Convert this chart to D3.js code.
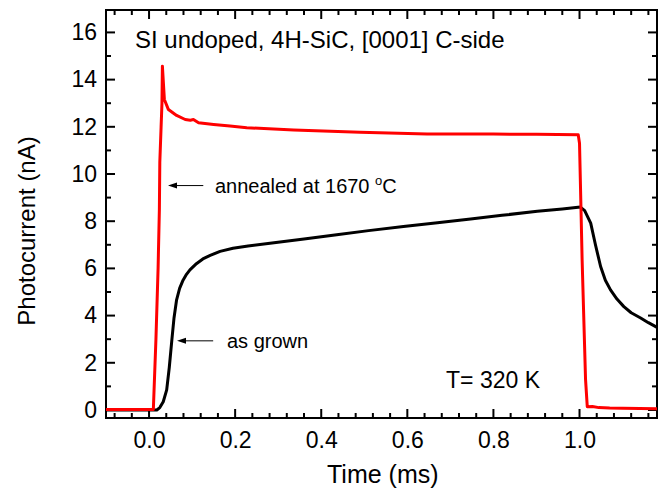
<!DOCTYPE html>
<html>
<head>
<meta charset="utf-8">
<script src="https://cdn.jsdelivr.net/npm/d3@7"></script>
<style>
  body { margin: 0; background: #fff; }
  svg text { font-family: "Liberation Sans", Arial, sans-serif; fill: #000; }
</style>
</head>
<body>
<div id="root"></div>
<script>
// as grown (black)
const grownT = [-0.10, 0.018, 0.025, 0.033, 0.041, 0.047, 0.053, 0.058, 0.064, 0.071, 0.079, 0.087, 0.095,
                0.110, 0.125, 0.142, 0.165, 0.195, 0.230, 0.281, 0.360, 0.436, 0.510, 0.591, 0.670, 0.747,
                0.820, 0.902, 0.960, 1.002, 1.012, 1.026, 1.037, 1.049, 1.060, 1.072, 1.087, 1.103, 1.120,
                1.142, 1.160, 1.177, 1.180];
const grownI = [0.00, 0.00, 0.10, 0.35, 0.85, 1.80, 2.97, 3.90, 4.67, 5.15, 5.50, 5.75, 5.94,
                6.20, 6.40, 6.55, 6.72, 6.85, 6.95, 7.07, 7.25, 7.43, 7.60, 7.78, 7.93, 8.09,
                8.25, 8.42, 8.52, 8.60, 8.45, 7.92, 7.00, 6.08, 5.50, 5.09, 4.70, 4.38, 4.12,
                3.90, 3.70, 3.53, 3.50];

// annealed at 1670 C (red)
const annealT = [-0.10, 0.010, 0.016, 0.021, 0.024, 0.025, 0.028, 0.030, 0.031, 0.0356, 0.045, 0.064,
                 0.084, 0.096, 0.103, 0.115, 0.150, 0.188, 0.227, 0.336, 0.490, 0.646, 0.800, 0.900,
                 0.997, 1.000, 1.006, 1.014, 1.018, 1.030, 1.045, 1.070, 1.100, 1.140, 1.180];
const annealI = [0.02, 0.02, 3.0, 6.0, 8.5, 10.5, 12.0, 13.0, 14.57, 13.16, 12.73, 12.48,
                 12.31, 12.28, 12.31, 12.17, 12.10, 12.03, 11.96, 11.86, 11.77, 11.70, 11.69, 11.68,
                 11.66, 11.30, 6.40, 1.30, 0.14, 0.15, 0.10, 0.08, 0.07, 0.06, 0.05];

const xTicks = [0.0, 0.2, 0.4, 0.6, 0.8, 1.0];
const yTicks = [0, 2, 4, 6, 8, 10, 12, 14, 16];

const outerWidth = 665, outerHeight = 494;
const margin = { top: 10, right: 8, bottom: 76, left: 106 };
const width = outerWidth - margin.left - margin.right;
const height = outerHeight - margin.top - margin.bottom;

const x = d3.scaleLinear().domain([-0.1, 1.18]).range([0, width]);
const y = d3.scaleLinear().domain([-0.34, 16.95]).range([height, 0]);

const svg = d3.select("#root").append("svg")
    .attr("width", outerWidth)
    .attr("height", outerHeight);

const chart = svg.append("g")
    .attr("transform", `translate(${margin.left},${margin.top})`);

const xMinor = d3.range(-0.08, 1.17, 0.04).filter(v => Math.abs(v / 0.2 - Math.round(v / 0.2)) > 0.01);
const yMinor = d3.range(1, 17, 2);

chart.append("rect")
    .attr("width", width).attr("height", height)
    .attr("fill", "none").attr("stroke", "#000").attr("stroke-width", 2);

// tick marks on all four sides, pointing inward
function xTickMarks(values, len) {
    chart.append("g").selectAll("line").data(values).join("line")
        .attr("x1", d => x(d)).attr("x2", d => x(d)).attr("y1", height).attr("y2", height - len)
        .attr("stroke", "#000").attr("stroke-width", 2);
    chart.append("g").selectAll("line").data(values).join("line")
        .attr("x1", d => x(d)).attr("x2", d => x(d)).attr("y1", 0).attr("y2", len)
        .attr("stroke", "#000").attr("stroke-width", 2);
}
function yTickMarks(values, len) {
    chart.append("g").selectAll("line").data(values).join("line")
        .attr("y1", d => y(d)).attr("y2", d => y(d)).attr("x1", 0).attr("x2", len)
        .attr("stroke", "#000").attr("stroke-width", 2);
    chart.append("g").selectAll("line").data(values).join("line")
        .attr("y1", d => y(d)).attr("y2", d => y(d)).attr("x1", width).attr("x2", width - len)
        .attr("stroke", "#000").attr("stroke-width", 2);
}
xTickMarks(xMinor, 5);
xTickMarks(xTicks, 9);
yTickMarks(yMinor, 5);
yTickMarks(yTicks, 9);

// tick labels from d3 axes (their own lines hidden)
const xAxis = chart.append("g")
    .attr("transform", `translate(0,${height})`)
    .call(d3.axisBottom(x).tickValues(xTicks).tickSize(0).tickPadding(14).tickFormat(d3.format(".1f")));
const yAxis = chart.append("g")
    .call(d3.axisLeft(y).tickValues(yTicks).tickSize(0).tickPadding(9).tickFormat(d3.format("d")));
[xAxis, yAxis].forEach(g => {
    g.select(".domain").remove();
    g.selectAll(".tick line").remove();
    g.selectAll("text").style("font-size", "23px");
});

const line = d3.line().x(d => x(d[0])).y(d => y(d[1]));

chart.append("path")
    .datum(d3.zip(grownT, grownI))
    .attr("d", line)
    .attr("fill", "none").attr("stroke", "#000").attr("stroke-width", 3)
    .attr("stroke-linejoin", "round");

chart.append("path")
    .datum(d3.zip(annealT, annealI))
    .attr("d", line)
    .attr("fill", "none").attr("stroke", "#ff0000").attr("stroke-width", 3)
    .attr("stroke-linejoin", "round");

// arrows: line plus a small filled head on the left end
function arrow(x0, x1, yv) {
    const px = x(x0), py = y(yv);
    chart.append("line")
        .attr("x1", px + 6).attr("x2", x(x1)).attr("y1", py).attr("y2", py)
        .attr("stroke", "#000").attr("stroke-width", 1);
    chart.append("path")
        .attr("d", `M${px},${py} L${px + 9},${py - 3} L${px + 9},${py + 3} Z`)
        .attr("fill", "#000");
}
arrow(0.044, 0.126, 9.51);
arrow(0.065, 0.149, 2.93);

const ann = chart.append("text")
    .attr("x", x(0.153)).attr("y", y(9.21))
    .style("font-size", "20px");
ann.append("tspan").text("annealed at 1670 ");
ann.append("tspan").attr("dy", -8).style("font-size", "13px").text("o");
ann.append("tspan").attr("dy", 8).text("C");

const grownLabel = chart.append("text")
    .attr("x", x(0.181)).attr("y", y(2.63))
    .style("font-size", "20px");
grownLabel.text("as grown");

chart.append("text")
    .attr("x", 29).attr("y", 38)
    .style("font-size", "24px")
    .text("SI undoped, 4H-SiC, [0001] C-side");

chart.append("text")
    .attr("x", x(0.69)).attr("y", y(0.93))
    .style("font-size", "23px")
    .text("T= 320 K");

svg.append("text")
    .attr("transform", `translate(35,231) rotate(-90)`)
    .attr("text-anchor", "middle")
    .style("font-size", "24px")
    .text("Photocurrent (nA)");

svg.append("text")
    .attr("x", margin.left + x(0.543)).attr("y", 483)
    .attr("text-anchor", "middle")
    .style("font-size", "25px")
    .text("Time (ms)");
</script>
</body>
</html>
